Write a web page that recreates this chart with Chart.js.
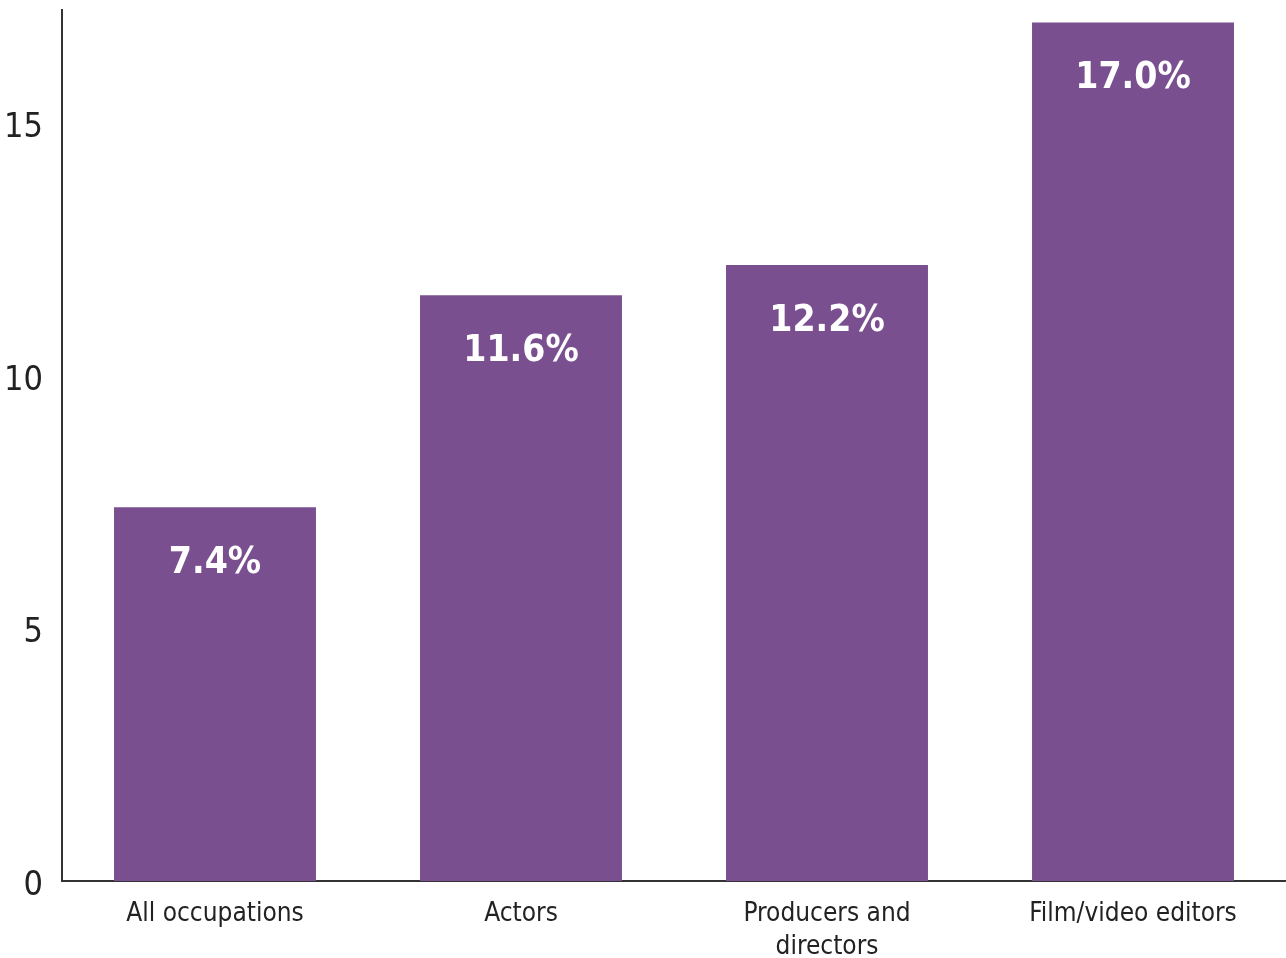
<!DOCTYPE html>
<html>
<head>
<meta charset="utf-8">
<script src="https://cdn.jsdelivr.net/npm/chart.js@4/dist/chart.umd.min.js"></script>
<style>
html,body{margin:0;padding:0;background:#fff;}
#wrap{width:1286px;height:958px;position:relative;}
</style>
</head>
<body>
<div id="wrap"><canvas id="c" width="1286" height="958"></canvas></div>
<script>
const categories = [["All occupations"], ["Actors"], ["Producers and", "directors"], ["Film/video editors"]];
const values = [7.4, 11.6, 12.2, 17.0];
const valueLabels = ["7.4%", "11.6%", "12.2%", "17.0%"];
const yTicks = [0, 5, 10, 15];

const condensed = "'Liberation Sans Narrow', 'DejaVu Sans Condensed', 'Roboto', sans-serif";

const labelPlugin = {
  id: 'barLabels',
  afterDatasetsDraw(chart) {
    const ctx = chart.ctx;
    const meta = chart.getDatasetMeta(0);
    ctx.save();
    ctx.fillStyle = '#ffffff';
    ctx.font = "bold 37px " + condensed;
    ctx.textAlign = 'center';
    ctx.textBaseline = 'middle';
    meta.data.forEach((bar, i) => {
      ctx.fillText(valueLabels[i], bar.x, bar.y + 56);
    });
    ctx.restore();
  }
};

new Chart(document.getElementById('c'), {
  type: 'bar',
  data: {
    labels: categories,
    datasets: [{
      data: values,
      backgroundColor: '#7a4f8f',
      borderWidth: 0,
      categoryPercentage: 1.0,
      barPercentage: 0.66
    }]
  },
  options: {
    responsive: false,
    animation: false,
    layout: { padding: { top: 10, right: 0, left: 0, bottom: 0 } },
    plugins: { legend: { display: false }, tooltip: { enabled: false } },
    scales: {
      x: {
        grid: { display: false, drawTicks: false },
        border: { display: true, color: '#333333', width: 2 },
        ticks: {
          color: '#222222',
          font: { family: condensed, size: 26, lineHeight: 1.3 },
          padding: 16,
          maxRotation: 0,
          autoSkip: false
        },
        afterFit(scale) { scale.height = 77; scale.paddingLeft = 0; scale.paddingRight = 0; }
      },
      y: {
        min: 0,
        max: 17.25,
        grid: { display: false, drawTicks: false },
        border: { display: true, color: '#333333', width: 2 },
        ticks: {
          color: '#222222',
          font: { family: condensed, size: 34 },
          padding: 19,
          labelOffset: 5
        },
        afterBuildTicks(scale) {
          scale.ticks = yTicks.map(v => ({ value: v }));
        },
        afterFit(scale) { scale.width = 62; scale.paddingTop = 0; scale.paddingBottom = 0; }
      }
    }
  },
  plugins: [labelPlugin]
});
</script>
</body>
</html>
